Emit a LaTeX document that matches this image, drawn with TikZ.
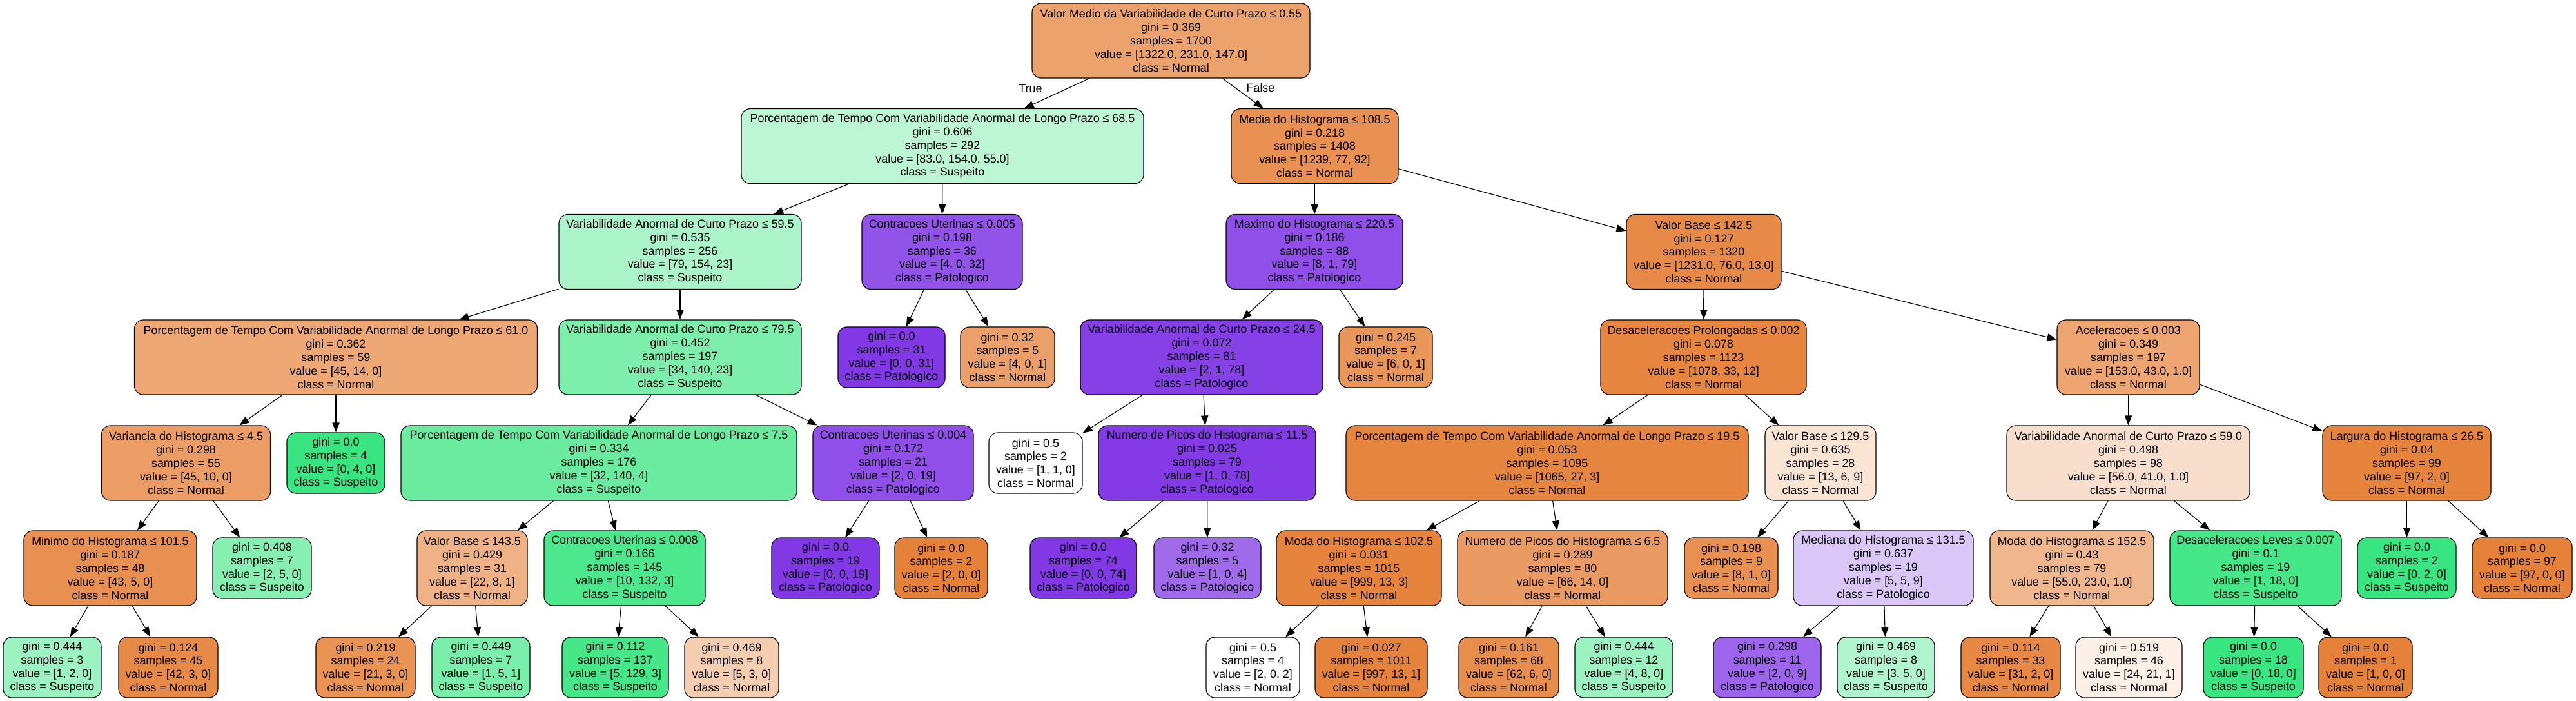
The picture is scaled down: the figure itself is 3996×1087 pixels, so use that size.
\documentclass[tikz,border=0pt]{standalone}
\usepackage{fontspec}
\setmainfont{Liberation Sans}
\usetikzlibrary{arrows.meta}
\definecolor{nor}{RGB}{229,129,57}
\definecolor{sus}{RGB}{57,229,129}
\definecolor{pat}{RGB}{129,57,229}
\begin{document}
\begin{tikzpicture}[x=0.8pt,y=-0.8pt,
  box/.style={draw=black,line width=0.9pt,rounded corners=11pt,align=center,inner sep=0pt,font=\fontsize{14.3}{16.7}\selectfont},
  dec/.style={box,minimum height=92.8pt},
  leaf/.style={box,minimum height=75.2pt},
  wd/.style={minimum width=#1*0.8pt},
  arr/.style={-{Triangle[length=12pt,width=9pt]},line width=0.9pt},
  lbl/.style={font=\fontsize{14.3}{16.7}\selectfont,inner sep=0pt}]
\useasboundingbox (0,0) rectangle (3996,1087);
% level 0
\node[dec,wd=431,fill=nor!74] (n0) at (1816.5,63) {Valor Medio da Variabilidade de Curto Prazo ≤ 0.55\\gini = 0.369\\samples = 1700\\value = [1322.0, 231.0, 147.0]\\class = Normal};
% level 1
\node[dec,wd=624,fill=sus!34] (n1) at (1462,226.6) {Porcentagem de Tempo Com Variabilidade Anormal de Longo Prazo ≤ 68.5\\gini = 0.606\\samples = 292\\value = [83.0, 154.0, 55.0]\\class = Suspeito};
\node[dec,wd=259,fill=nor!87] (n2) at (2039.5,226.6) {Media do Histograma ≤ 108.5\\gini = 0.218\\samples = 1408\\value = [1239, 77, 92]\\class = Normal};
% level 2
\node[dec,wd=376,fill=sus!42] (n3) at (1055,390.5) {Variabilidade Anormal de Curto Prazo ≤ 59.5\\gini = 0.535\\samples = 256\\value = [79, 154, 23]\\class = Suspeito};
\node[dec,wd=249,fill=pat!87] (n4) at (1461.5,390.5) {Contracoes Uterinas ≤ 0.005\\gini = 0.198\\samples = 36\\value = [4, 0, 32]\\class = Patologico};
\node[dec,wd=274,fill=pat!89] (n5) at (2039,390.5) {Maximo do Histograma ≤ 220.5\\gini = 0.186\\samples = 88\\value = [8, 1, 79]\\class = Patologico};
\node[dec,wd=240,fill=nor!93] (n6) at (2643,390.5) {Valor Base ≤ 142.5\\gini = 0.127\\samples = 1320\\value = [1231.0, 76.0, 13.0]\\class = Normal};
% level 3
\node[dec,wd=625,fill=nor!69] (n7) at (521,554) {Porcentagem de Tempo Com Variabilidade Anormal de Longo Prazo ≤ 61.0\\gini = 0.362\\samples = 59\\value = [45, 14, 0]\\class = Normal};
\node[dec,wd=376,fill=sus!65] (n8) at (1055,554) {Variabilidade Anormal de Curto Prazo ≤ 79.5\\gini = 0.452\\samples = 197\\value = [34, 140, 23]\\class = Suspeito};
\node[leaf,wd=166,fill=pat!100] (n9) at (1383,554) {gini = 0.0\\samples = 31\\value = [0, 0, 31]\\class = Patologico};
\node[leaf,wd=146,fill=nor!75] (n10) at (1563,554) {gini = 0.32\\samples = 5\\value = [4, 0, 1]\\class = Normal};
\node[dec,wd=376,fill=pat!96] (n11) at (1864,554) {Variabilidade Anormal de Curto Prazo ≤ 24.5\\gini = 0.072\\samples = 81\\value = [2, 1, 78]\\class = Patologico};
\node[leaf,wd=145,fill=nor!83] (n12) at (2149.5,554) {gini = 0.245\\samples = 7\\value = [6, 0, 1]\\class = Normal};
\node[dec,wd=319,fill=nor!96] (n13) at (2642.5,554) {Desaceleracoes Prolongadas ≤ 0.002\\gini = 0.078\\samples = 1123\\value = [1078, 33, 12]\\class = Normal};
\node[dec,wd=221,fill=nor!71] (n14) at (3301.5,554) {Aceleracoes ≤ 0.003\\gini = 0.349\\samples = 197\\value = [153.0, 43.0, 1.0]\\class = Normal};
% level 4
\node[dec,wd=262,fill=nor!78] (n15) at (288.5,718) {Variancia do Histograma ≤ 4.5\\gini = 0.298\\samples = 55\\value = [45, 10, 0]\\class = Normal};
\node[leaf,wd=152,fill=sus!100] (n16) at (521,718) {gini = 0.0\\samples = 4\\value = [0, 4, 0]\\class = Suspeito};
\node[dec,wd=614,fill=sus!75] (n17) at (929,718) {Porcentagem de Tempo Com Variabilidade Anormal de Longo Prazo ≤ 7.5\\gini = 0.334\\samples = 176\\value = [32, 140, 4]\\class = Suspeito};
\node[dec,wd=249,fill=pat!89] (n18) at (1385.5,718) {Contracoes Uterinas ≤ 0.004\\gini = 0.172\\samples = 21\\value = [2, 0, 19]\\class = Patologico};
\node[leaf,wd=145,fill=white] (n19) at (1606.5,718) {gini = 0.5\\samples = 2\\value = [1, 1, 0]\\class = Normal};
\node[dec,wd=337,fill=pat!99] (n20) at (1872.5,718) {Numero de Picos do Histograma ≤ 11.5\\gini = 0.025\\samples = 79\\value = [1, 0, 78]\\class = Patologico};
\node[dec,wd=624,fill=nor!97] (n21) at (2400,718) {Porcentagem de Tempo Com Variabilidade Anormal de Longo Prazo ≤ 19.5\\gini = 0.053\\samples = 1095\\value = [1065, 27, 3]\\class = Normal};
\node[dec,wd=172,fill=nor!21] (n22) at (2824,718) {Valor Base ≤ 129.5\\gini = 0.635\\samples = 28\\value = [13, 6, 9]\\class = Normal};
\node[dec,wd=377,fill=nor!26] (n23) at (3301.5,718) {Variabilidade Anormal de Curto Prazo ≤ 59.0\\gini = 0.498\\samples = 98\\value = [56.0, 41.0, 1.0]\\class = Normal};
\node[dec,wd=261,fill=nor!98] (n24) at (3733.5,718) {Largura do Histograma ≤ 26.5\\gini = 0.04\\samples = 99\\value = [97, 2, 0]\\class = Normal};
% level 5
\node[dec,wd=268,fill=nor!88] (n25) at (171,881) {Minimo do Histograma ≤ 101.5\\gini = 0.187\\samples = 48\\value = [43, 5, 0]\\class = Normal};
\node[leaf,wd=153,fill=sus!60] (n26) at (406.5,881) {gini = 0.408\\samples = 7\\value = [2, 5, 0]\\class = Suspeito};
\node[dec,wd=171,fill=nor!61] (n27) at (732.5,881) {Valor Base ≤ 143.5\\gini = 0.429\\samples = 31\\value = [22, 8, 1]\\class = Normal};
\node[dec,wd=250,fill=sus!90] (n28) at (969,881) {Contracoes Uterinas ≤ 0.008\\gini = 0.166\\samples = 145\\value = [10, 132, 3]\\class = Suspeito};
\node[leaf,wd=167,fill=pat!100] (n29) at (1280.5,881) {gini = 0.0\\samples = 19\\value = [0, 0, 19]\\class = Patologico};
\node[leaf,wd=144,fill=nor!100] (n30) at (1460,881) {gini = 0.0\\samples = 2\\value = [2, 0, 0]\\class = Normal};
\node[leaf,wd=165,fill=pat!100] (n31) at (1680.5,881) {gini = 0.0\\samples = 74\\value = [0, 0, 74]\\class = Patologico};
\node[leaf,wd=166,fill=pat!75] (n32) at (1873,881) {gini = 0.32\\samples = 5\\value = [1, 0, 4]\\class = Patologico};
\node[dec,wd=256,fill=nor!98] (n33) at (2108,881) {Moda do Histograma ≤ 102.5\\gini = 0.031\\samples = 1015\\value = [999, 13, 3]\\class = Normal};
\node[dec,wd=326,fill=nor!79] (n34) at (2424,881) {Numero de Picos do Histograma ≤ 6.5\\gini = 0.289\\samples = 80\\value = [66, 14, 0]\\class = Normal};
\node[leaf,wd=145,fill=nor!88] (n35) at (2685.5,881) {gini = 0.198\\samples = 9\\value = [8, 1, 0]\\class = Normal};
\node[dec,wd=279,fill=pat!29] (n36) at (2921.5,881) {Mediana do Histograma ≤ 131.5\\gini = 0.637\\samples = 19\\value = [5, 5, 9]\\class = Patologico};
\node[dec,wd=254,fill=nor!57] (n37) at (3214,881) {Moda do Histograma ≤ 152.5\\gini = 0.43\\samples = 79\\value = [55.0, 23.0, 1.0]\\class = Normal};
\node[dec,wd=266,fill=sus!94] (n38) at (3499,881) {Desaceleracoes Leves ≤ 0.007\\gini = 0.1\\samples = 19\\value = [1, 18, 0]\\class = Suspeito};
\node[leaf,wd=153,fill=sus!100] (n39) at (3733.5,881) {gini = 0.0\\samples = 2\\value = [0, 2, 0]\\class = Suspeito};
\node[leaf,wd=155,fill=nor!100] (n40) at (3912.5,881) {gini = 0.0\\samples = 97\\value = [97, 0, 0]\\class = Normal};
% level 6
\node[leaf,wd=152,fill=sus!50] (n41) at (81,1035) {gini = 0.444\\samples = 3\\value = [1, 2, 0]\\class = Suspeito};
\node[leaf,wd=154,fill=nor!93] (n42) at (261,1035) {gini = 0.124\\samples = 45\\value = [42, 3, 0]\\class = Normal};
\node[leaf,wd=154,fill=nor!86] (n43) at (567,1035) {gini = 0.219\\samples = 24\\value = [21, 3, 0]\\class = Normal};
\node[leaf,wd=152,fill=sus!67] (n44) at (746,1035) {gini = 0.449\\samples = 7\\value = [1, 5, 1]\\class = Suspeito};
\node[leaf,wd=165,fill=sus!94] (n45) at (954.5,1035) {gini = 0.112\\samples = 137\\value = [5, 129, 3]\\class = Suspeito};
\node[leaf,wd=146,fill=nor!40] (n46) at (1135,1035) {gini = 0.469\\samples = 8\\value = [5, 3, 0]\\class = Normal};
\node[leaf,wd=145,fill=white] (n47) at (1943.5,1035) {gini = 0.5\\samples = 4\\value = [2, 0, 2]\\class = Normal};
\node[leaf,wd=174,fill=nor!99] (n48) at (2127,1035) {gini = 0.027\\samples = 1011\\value = [997, 13, 1]\\class = Normal};
\node[leaf,wd=155,fill=nor!90] (n49) at (2340.5,1035) {gini = 0.161\\samples = 68\\value = [62, 6, 0]\\class = Normal};
\node[leaf,wd=152,fill=sus!50] (n50) at (2519,1035) {gini = 0.444\\samples = 12\\value = [4, 8, 0]\\class = Suspeito};
\node[leaf,wd=167,fill=pat!78] (n51) at (2741.5,1035) {gini = 0.298\\samples = 11\\value = [2, 0, 9]\\class = Patologico};
\node[leaf,wd=151,fill=sus!40] (n52) at (2925.5,1035) {gini = 0.469\\samples = 8\\value = [3, 5, 0]\\class = Suspeito};
\node[leaf,wd=154,fill=nor!94] (n53) at (3119,1035) {gini = 0.114\\samples = 33\\value = [31, 2, 0]\\class = Normal};
\node[leaf,wd=165,fill=nor!12] (n54) at (3302.5,1035) {gini = 0.519\\samples = 46\\value = [24, 21, 1]\\class = Normal};
\node[leaf,wd=155,fill=sus!100] (n55) at (3495.5,1035) {gini = 0.0\\samples = 18\\value = [0, 18, 0]\\class = Suspeito};
\node[leaf,wd=145,fill=nor!100] (n56) at (3669.5,1035) {gini = 0.0\\samples = 1\\value = [1, 0, 0]\\class = Normal};
% edge labels
\node[lbl] (tTrue) at (1598.5,137.5) {True};
\node[lbl] (tFalse) at (1955.5,136) {False};
% edges
\foreach \a/\b in {n0/n1,n0/n2,n1/n3,n1/n4,n2/n5,n2/n6,n3/n7,n3/n8,n4/n9,n4/n10,
  n5/n11,n5/n12,n6/n13,n6/n14,n7/n15,n7/n16,n8/n17,n8/n18,n11/n19,n11/n20,
  n13/n21,n13/n22,n14/n23,n14/n24,n15/n25,n15/n26,n17/n27,n17/n28,n18/n29,n18/n30,
  n20/n31,n20/n32,n21/n33,n21/n34,n22/n35,n22/n36,n23/n37,n23/n38,n24/n39,n24/n40,
  n25/n41,n25/n42,n27/n43,n27/n44,n28/n45,n28/n46,n33/n47,n33/n48,n34/n49,n34/n50,
  n36/n51,n36/n52,n37/n53,n37/n54,n38/n55,n38/n56}
  \draw[arr] (\a) -- (\b);
\end{tikzpicture}
\end{document}
